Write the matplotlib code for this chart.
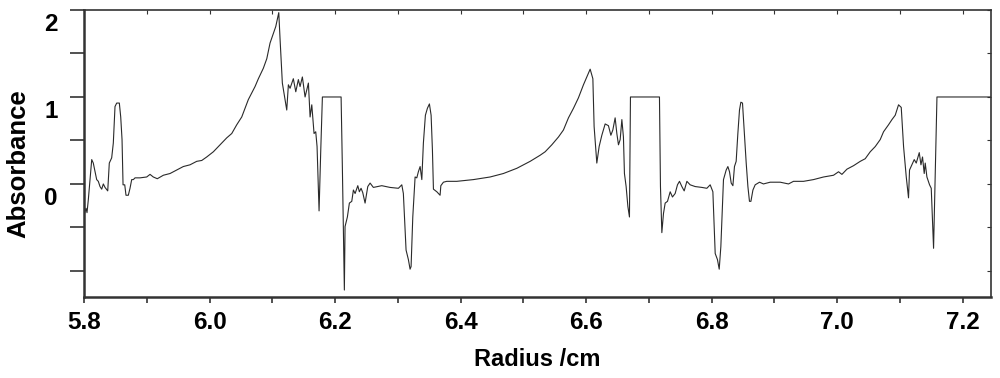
import numpy as np
import matplotlib
matplotlib.use("Agg")
import matplotlib.pyplot as plt
from matplotlib.transforms import ScaledTranslation

# radius (cm) and absorbance
radius = [5.8000, 5.8032, 5.8048, 5.8069, 5.8123, 5.8148, 5.8202, 5.8228, 5.8255, 5.8282,
          5.8308, 5.8335, 5.8378, 5.8403, 5.8441, 5.8467, 5.8494, 5.8521, 5.8563, 5.8585,
          5.8606, 5.8622, 5.8649, 5.8669, 5.8706, 5.8733, 5.8760, 5.8786, 5.8813, 5.8892,
          5.8999, 5.9052, 5.9104, 5.9168, 5.9264, 5.9371, 5.9477, 5.9582, 5.9689, 5.9796,
          5.9876, 5.9955, 6.0061, 6.0167, 6.0274, 6.0354, 6.0433, 6.0513, 6.0618, 6.0725,
          6.0778, 6.0857, 6.0912, 6.0964, 6.1017, 6.1055, 6.1087, 6.1103, 6.1124, 6.1160,
          6.1192, 6.1230, 6.1256, 6.1283, 6.1335, 6.1374, 6.1415, 6.1442, 6.1479, 6.1522,
          6.1575, 6.1602, 6.1629, 6.1665, 6.1692, 6.1713, 6.1745, 6.1772, 6.1798, 6.2096,
          6.2116, 6.2148, 6.2159, 6.2196, 6.2228, 6.2266, 6.2292, 6.2319, 6.2362, 6.2387,
          6.2414, 6.2441, 6.2478, 6.2521, 6.2558, 6.2610, 6.2744, 6.2876, 6.3009, 6.3063,
          6.3088, 6.3131, 6.3168, 6.3195, 6.3211, 6.3238, 6.3275, 6.3302, 6.3327, 6.3355,
          6.3382, 6.3407, 6.3439, 6.3471, 6.3503, 6.3530, 6.3551, 6.3567, 6.3621, 6.3673,
          6.3685, 6.3726, 6.3780, 6.3939, 6.4204, 6.4470, 6.4682, 6.4896, 6.5108, 6.5267,
          6.5347, 6.5453, 6.5559, 6.5638, 6.5718, 6.5798, 6.5877, 6.5957, 6.6011, 6.6064,
          6.6107, 6.6127, 6.6170, 6.6207, 6.6250, 6.6303, 6.6355, 6.6394, 6.6425, 6.6462,
          6.6489, 6.6515, 6.6542, 6.6569, 6.6594, 6.6610, 6.6637, 6.6665, 6.6690, 6.6706,
          6.7168, 6.7184, 6.7206, 6.7232, 6.7259, 6.7296, 6.7339, 6.7375, 6.7418, 6.7455,
          6.7487, 6.7525, 6.7562, 6.7605, 6.7657, 6.7737, 6.7844, 6.7923, 6.7976, 6.8019,
          6.8056, 6.8092, 6.8120, 6.8146, 6.8188, 6.8231, 6.8258, 6.8284, 6.8311, 6.8338,
          6.8363, 6.8390, 6.8417, 6.8443, 6.8465, 6.8491, 6.8518, 6.8550, 6.8577, 6.8602,
          6.8625, 6.8657, 6.8693, 6.8762, 6.8825, 6.8932, 6.9092, 6.9224, 6.9303, 6.9463,
          6.9622, 6.9782, 6.9941, 7.0021, 7.0075, 7.0155, 7.0260, 7.0367, 7.0446, 7.0526,
          7.0606, 7.0685, 7.0738, 7.0817, 7.0872, 7.0924, 7.0977, 7.1020, 7.1057, 7.1100,
          7.1136, 7.1152, 7.1190, 7.1227, 7.1259, 7.1307, 7.1334, 7.1359, 7.1386, 7.1402,
          7.1429, 7.1471, 7.1498, 7.1535, 7.1589, 7.2500]
absorbance = [-0.36, -0.28, -0.33, -0.18, 0.28, 0.24, 0.05, 0.03, -0.03, -0.06,
              0.00, -0.04, -0.08, 0.24, 0.30, 0.47, 0.89, 0.93, 0.93, 0.77,
              0.51, -0.01, -0.01, -0.13, -0.13, -0.05, 0.05, 0.05, 0.07, 0.07,
              0.08, 0.11, 0.08, 0.06, 0.10, 0.12, 0.16, 0.20, 0.22, 0.26,
              0.27, 0.31, 0.37, 0.45, 0.53, 0.58, 0.68, 0.77, 0.97, 1.12,
              1.21, 1.33, 1.44, 1.62, 1.73, 1.81, 1.92, 1.97, 1.66, 1.16,
              1.02, 0.85, 1.14, 1.10, 1.21, 1.06, 1.20, 1.12, 1.23, 1.00,
              1.16, 0.77, 0.91, 0.58, 0.60, 0.43, -0.31, 0.39, 1.00, 1.00,
              0.20, -1.22, -0.49, -0.38, -0.22, -0.20, -0.07, -0.11, -0.02, -0.09,
              -0.05, -0.10, -0.22, -0.03, 0.01, -0.04, -0.02, -0.04, -0.05, -0.01,
              -0.11, -0.76, -0.87, -0.98, -0.95, -0.38, 0.08, 0.07, 0.14, 0.20,
              0.05, 0.47, 0.79, 0.87, 0.92, 0.79, 0.39, -0.06, -0.09, -0.13,
              -0.02, 0.02, 0.03, 0.03, 0.05, 0.08, 0.12, 0.18, 0.26, 0.33,
              0.37, 0.45, 0.54, 0.62, 0.76, 0.87, 0.99, 1.14, 1.23, 1.32,
              1.21, 0.66, 0.24, 0.43, 0.56, 0.69, 0.67, 0.56, 0.62, 0.76,
              0.58, 0.45, 0.51, 0.74, 0.54, 0.12, -0.03, -0.26, -0.38, 1.00,
              1.00, -0.03, -0.56, -0.34, -0.22, -0.20, -0.09, -0.15, -0.11, -0.01,
              0.03, -0.03, -0.08, 0.03, -0.01, -0.03, -0.04, -0.05, -0.01, -0.09,
              -0.80, -0.87, -0.98, -0.72, 0.05, 0.16, 0.20, 0.14, 0.01, -0.02,
              0.20, 0.26, 0.58, 0.85, 0.94, 0.93, 0.62, 0.24, -0.03, -0.20,
              -0.20, -0.07, -0.01, 0.02, 0.00, 0.02, 0.02, 0.00, 0.03, 0.03,
              0.05, 0.08, 0.10, 0.14, 0.11, 0.17, 0.21, 0.26, 0.29, 0.37,
              0.43, 0.51, 0.60, 0.68, 0.74, 0.79, 0.91, 0.88, 0.43, 0.08,
              -0.16, 0.16, 0.22, 0.28, 0.24, 0.36, 0.22, 0.31, 0.12, 0.24,
              0.08, -0.01, -0.05, -0.74, 1.00, 1.00]

x_ticks = [5.8, 6.0, 6.2, 6.4, 6.6, 6.8, 7.0, 7.2]
y_ticks = [-1, 0, 1, 2]
y_ticklabels = ["", "0", "1", "2"]

plt.rcParams['font.family'] = ['Liberation Sans', 'DejaVu Sans']
plt.rcParams['font.weight'] = 'bold'

fig = plt.figure(figsize=(10, 3.78), dpi=100)
ax = fig.add_axes([0.084, 0.2143, 0.907, 0.7592])
ax.plot(radius, absorbance, color='#2a2a2a', lw=0.8)

ax.set_xlim(5.8, 7.245)
ax.set_ylim(-1.30, 2.0)
ax.set_xticks(x_ticks)
ax.set_xticklabels([f"{v:.1f}" for v in x_ticks])
ax.set_xticks(np.arange(5.9, 7.25, 0.2), minor=True)
ax.set_yticks(y_ticks)
ax.set_yticklabels(y_ticklabels)
ax.set_yticks([-0.5, 0.5, 1.5], minor=True)

ax.tick_params(axis='x', which='both', direction='out', length=4, width=1.2,
               labelsize=17.5, pad=6, color='#333333')
ax.tick_params(axis='y', which='both', direction='out', length=10, width=1.2,
               labelsize=17.5, pad=9, color='#333333')

# the y numbers sit a little below their ticks in the original
shift = ScaledTranslation(0, -0.12, fig.dpi_scale_trans)
for lab in ax.get_yticklabels():
    lab.set_transform(lab.get_transform() + shift)

# inward ticks on the top and right frame
top = ax.secondary_xaxis('top')
top.set_xticks(np.arange(5.8, 7.25, 0.1))
top.tick_params(direction='in', length=3, labeltop=False, color='#333333')
right = ax.secondary_yaxis('right')
right.set_yticks([-1, -0.5, 0, 0.5, 1, 1.5, 2])
right.tick_params(direction='in', length=3, labelright=False, color='#333333')
for a in (top, right):
    for s in a.spines.values():
        s.set_visible(False)

for s in ax.spines.values():
    s.set_color('#333333')
    s.set_linewidth(1.2)
ax.spines['left'].set_linewidth(1.8)
ax.spines['bottom'].set_linewidth(1.8)

ax.set_xlabel('Radius /cm', fontsize=17, fontweight='bold', labelpad=10)
ax.set_ylabel('Absorbance', fontsize=18.5, fontweight='bold')
ax.yaxis.set_label_coords(-0.059, 0.464)

plt.savefig('out.png', dpi=100)
